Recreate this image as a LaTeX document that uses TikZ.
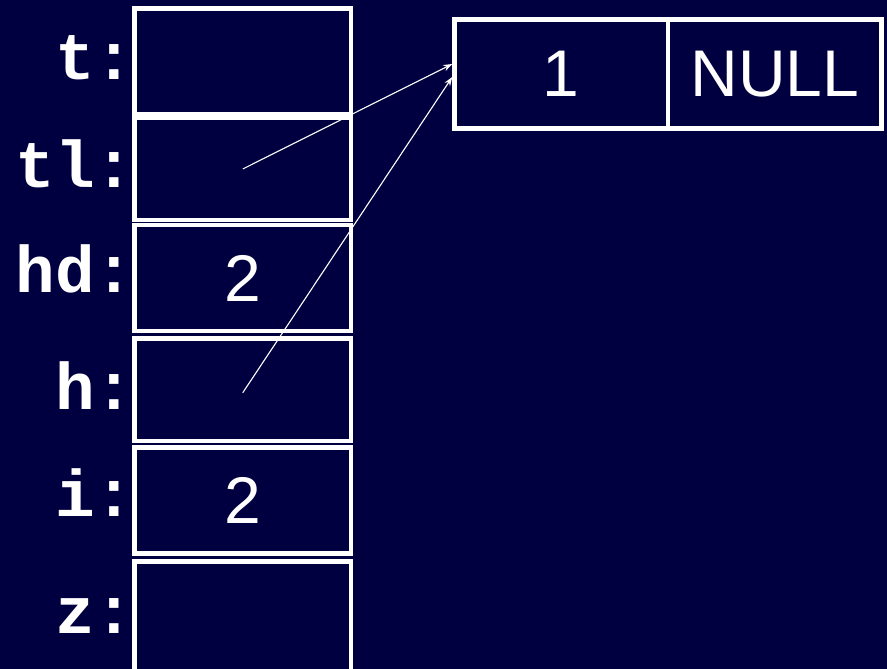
\documentclass[tikz,border=0pt]{standalone}
\usepackage{fontspec}
\setmainfont{Liberation Sans}
\newfontfamily\labelmono{Liberation Mono}
\usetikzlibrary{arrows.meta}
\definecolor{navybg}{RGB}{0,0,64}
\tikzset{
  cell/.style={draw=white, line width=4.5pt, rectangle, inner sep=0pt, fill=navybg},
  varlabel/.style={text=white, inner sep=0pt, anchor=base east, font=\labelmono\bfseries\fontsize{66}{70}\selectfont},
  valtext/.style={text=white, inner sep=0pt, font=\fontsize{66}{70}\selectfont},
  ptr/.style={draw=white, line width=1.1pt, -{Stealth[length=9pt,width=6.5pt]}}
}
\begin{document}
\begin{tikzpicture}[x=1pt,y=-1pt]
\fill[navybg] (0,0) rectangle (887,669);
\useasboundingbox (0,0) rectangle (887,669);
\clip (0,0) rectangle (887,669);
% left column cells
\node[cell, minimum width=216.5pt, minimum height=105.5pt] (t)  at (242.75, 61.25) {};
\node[cell, minimum width=216.5pt, minimum height=102pt]   (tl) at (242.75, 169) {};
\node[cell, minimum width=216.5pt, minimum height=106pt]   (hd) at (242.75, 278) {};
\node[cell, minimum width=216.5pt, minimum height=102.5pt] (h)  at (242.75, 389.75) {};
\node[cell, minimum width=216.5pt, minimum height=106pt]   (i)  at (242.75, 500.5) {};
\node[cell, minimum width=216.5pt, minimum height=130pt]   (z)  at (242.75, 626.5) {};
% values
\node[valtext] (hdv) at (hd.center) {2};
\node[valtext] (iv)  at (i.center) {2};
% labels
\node[varlabel] (lt)  at (134.5, 80)  {t:};
\node[varlabel] (ltl) at (134.5, 187) {tl:};
\node[varlabel] (lhd) at (134.5, 292) {hd:};
\node[varlabel] (lh)  at (134.5, 409) {h:};
\node[varlabel] (li)  at (134.5, 516) {i:};
\node[varlabel] (lz)  at (134.5, 633) {z:};
% list cell
\node[cell, minimum width=213.5pt, minimum height=108.6pt] (one)  at (561.25, 74) {};
\node[cell, minimum width=213.5pt, minimum height=108.6pt] (null) at (774.75, 74) {};
\node[valtext] (onev)  at (one.center) {1};
\node[valtext] (nullv) at (null.center) {NULL};
% pointers
\draw[ptr] (tl.center) -- ([yshift=10pt]one.west);
\draw[ptr] ([yshift=-3pt]h.center) -- ([yshift=-3pt]one.west);
\end{tikzpicture}
\end{document}
